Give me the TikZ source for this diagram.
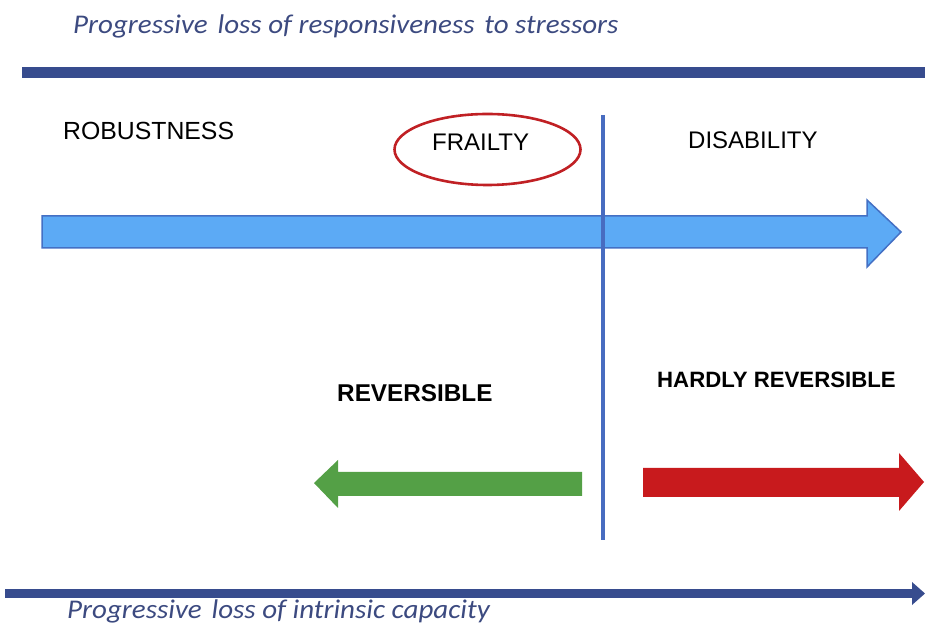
\documentclass[tikz,border=0pt]{standalone}
\usepackage{fontspec}
\setmainfont{Liberation Sans}
\newfontfamily\capfont{Carlito}
\usetikzlibrary{shapes.geometric}

\definecolor{navy}{RGB}{55,76,142}
\definecolor{axistext}{RGB}{60,74,128}
\definecolor{divider}{RGB}{72,108,192}
\definecolor{skyfill}{RGB}{92,170,245}
\definecolor{skyedge}{RGB}{68,112,196}
\definecolor{ringred}{RGB}{192,32,36}
\definecolor{revgreen}{RGB}{84,160,70}
\definecolor{hardred}{RGB}{200,26,29}

% slightly widened italic caption text
\newcommand{\widecap}[1]{\scalebox{1.075}[1]{#1}}
\newcommand{\gap}{\ \kern3pt}

\tikzset{
  axislabel/.style={anchor=base west, inner sep=0pt, text=axistext,
    font=\capfont\itshape\fontsize{27}{31}\selectfont},
  stage/.style={anchor=base west, inner sep=0pt, text=black,
    font=\fontsize{24}{28}\selectfont},
  verdict/.style={anchor=base west, inner sep=0pt, text=black,
    font=\bfseries\fontsize{24.3}{28}\selectfont},
}

\begin{document}
\begin{tikzpicture}[x=1pt,y=1pt]
\useasboundingbox (0,0) rectangle (925,623);

% top axis bar and its caption
\fill[navy] (22,545) rectangle (925,556);
\node[axislabel] (toplabel) at (73,589) {\widecap{Progressive\gap loss of responsiveness\gap to stressors}};

% bottom axis arrow and its caption
\fill[navy] (5,25) rectangle (913,34);
\fill[navy] (912,41) -- (925,29.5) -- (912,18) -- cycle;
\node[axislabel] (bottomlabel) at (67,5) {\widecap{Progressive\gap loss of intrinsic capacity}};

% main progression arrow
\filldraw[fill=skyfill, draw=skyedge, line width=1.5pt, line join=miter]
  (42,407) -- (867,407) -- (867,423) -- (901,391) -- (867,356) -- (867,375) -- (42,375) -- cycle;

% dividing line between reversible and hardly reversible
\coordinate (divtop) at (603,508);
\coordinate (divbot) at (603,83);
\draw[divider, line width=3.5pt] (divtop) -- (divbot);

% stages
\node[stage, font=\fontsize{24.8}{28}\selectfont] (robust) at (63,483) {ROBUSTNESS};
\node[ellipse, draw=ringred, line width=2.6pt, minimum width=186pt, minimum height=71pt, inner sep=0pt]
  (ring) at (487.5,473.5) {};
\node[stage] (frailty) at (432,472) {FRAILTY};
\node[stage] (disab) at (688,474) {DISABILITY};

% reversibility labels
\node[verdict] (rev) at (337,221) {REVERSIBLE};
\node[verdict, font=\bfseries\fontsize{22.2}{26}\selectfont] (hardrev) at (657,235) {HARDLY REVERSIBLE};

% reversibility arrows
\fill[revgreen] (582,151) -- (338,151) -- (338,163) -- (314,140) -- (338,115) -- (338,127) -- (582,127) -- cycle;
\fill[hardred] (643,155) -- (899,155) -- (899,170) -- (924,141) -- (899,112) -- (899,126) -- (643,126) -- cycle;

\end{tikzpicture}
\end{document}
